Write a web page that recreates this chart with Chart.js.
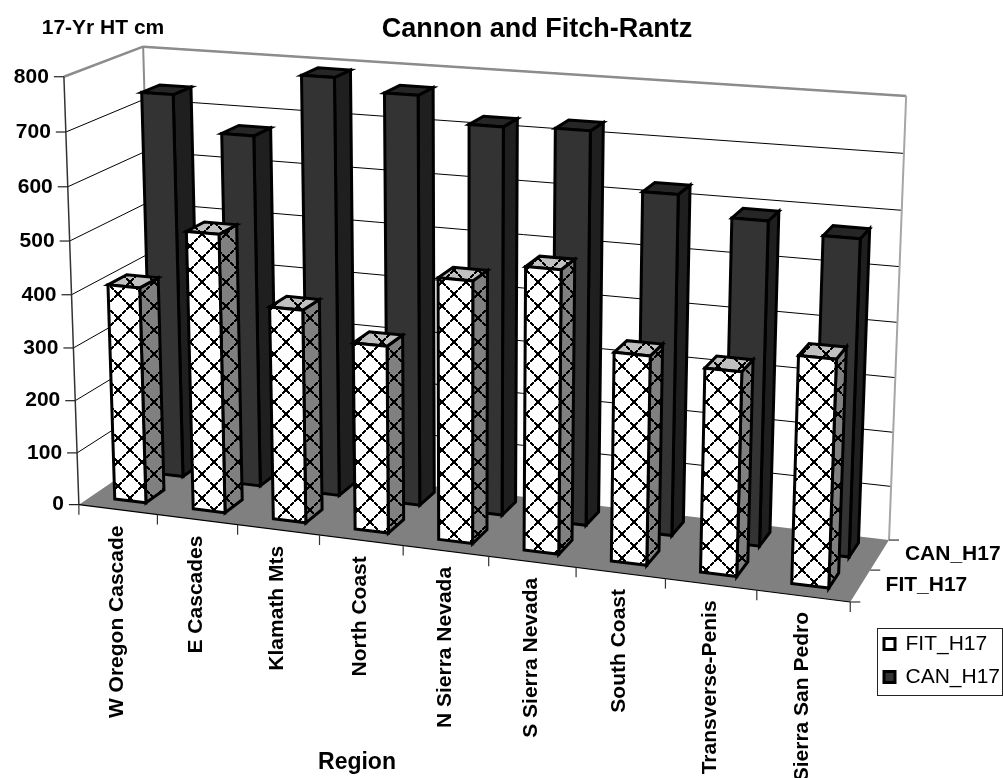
<!DOCTYPE html>
<html><head><meta charset="utf-8">
<style>html,body{margin:0;padding:0;background:#fff}#w{width:1003px;height:778px}</style>
<script src="https://cdn.jsdelivr.net/npm/chart.js@4/dist/chart.umd.js"></script>
</head><body><div id="w"><canvas id="c"></canvas></div>
<script>
const categories=['W Oregon Cascade','E Cascades','Klamath Mts','North Coast','N Sierra Nevada','S Sierra Nevada','South Coast','Transverse-Penis','Sierra San Pedro'];
const fitValues=[410,523,398,347,480,514,377,365,403];
const canValues=[736,670,788,766,720,724,623,589,571];
const seriesNames=['FIT_H17','CAN_H17'];
const yTickMax=800, yTickStep=100;
// view of the 3D box: [along categories, up, into depth] -> page position
const viewAnchors=[[0,0,0,80,505],[0,0,0,80,505],[1,0,0,850,602],[0,0,1,152,452],[1,0,1,890,540],[0,1,0,63,76],[0,1,0,63,76],[0,1,1,145,48],[1,1,1,906,96],
 [1/9,0,0,157.5,515],[2/9,0,0,238,525],[8/9,0,0,756,590]];
const seriesDepth={FIT_H17:[0.16,0.40],CAN_H17:[0.66,0.90]};

function solveView(a){
  const n=11,A=Array.from({length:n},()=>Array(n+1).fill(0));
  const add=(r,b)=>{for(let i=0;i<n;i++){for(let j=0;j<n;j++)A[i][j]+=r[i]*r[j];A[i][n]+=r[i]*b;}};
  a.forEach(([X,Y,Z,px,py])=>{const x=px/1000,y=py/1000;
    add([X,Y,Z,1,0,0,0,0,-x*X,-x*Y,-x*Z],x);
    add([0,0,0,0,X,Y,Z,1,-y*X,-y*Y,-y*Z],y);});
  for(let i=0;i<n;i++){let m=i;for(let r=i+1;r<n;r++)if(Math.abs(A[r][i])>Math.abs(A[m][i]))m=r;
    [A[i],A[m]]=[A[m],A[i]];
    for(let r=0;r<n;r++)if(r!==i){const f=A[r][i]/A[i][i];for(let c=i;c<=n;c++)A[r][c]-=f*A[i][c];}}
  return A.map((r,i)=>r[n]/r[i]);
}
const V=solveView(viewAnchors);
function P(u,v,w){const d=V[8]*u+V[9]*v+V[10]*w+1;
  return [1000*(V[0]*u+V[1]*v+V[2]*w+V[3])/d,1000*(V[4]*u+V[5]*v+V[6]*w+V[7])/d];}

function lattice(){const t=24,c=document.createElement('canvas');c.width=t;c.height=t;const g=c.getContext('2d');g.fillStyle='#000';
  for(let i=0;i<12;i++){const a=i*2;g.fillRect(a,a,2,2);g.fillRect(t-2-a,a,2,2);if(i%2===0){g.fillRect(a+1,a+1,2,2);g.fillRect(t-3-a,a+1,2,2);}}
  return c;}
const latticeTile=lattice();

function poly(ctx,pts){ctx.beginPath();pts.forEach((p,i)=>i?ctx.lineTo(p[0],p[1]):ctx.moveTo(p[0],p[1]));ctx.closePath();}
function line(ctx,a,b,col,lw){ctx.strokeStyle=col;ctx.lineWidth=lw;ctx.beginPath();ctx.moveTo(a[0],a[1]);ctx.lineTo(b[0],b[1]);ctx.stroke();}

const box3d={
  id:'box3d',
  afterLayout(chart){
    const {x,y,z}=chart.scales;
    const U=p=>(p-x.left)/x.width, H=p=>(y.bottom-p)/y.height;
    const move=(s,fn)=>{ if(s.$wrapped)return; s.$wrapped=true; const o=s.getLabelItems;
      s._computeLabelArea=()=>undefined;
      s.getLabelItems=function(ca){const it=o.call(s,ca); if(!it.$m){it.forEach(fn);it.$m=true;} return it;};};
    move(y,(it)=>{const p=P(0,H(it.options.translation[1]),0);it.options.translation=[p[0]-15,p[1]];it.options.textAlign='right';it.options.textBaseline='middle';it.textOffset=0;});
    move(x,(it,i)=>{const p=P(U(x.getPixelForTick(i)),0,0);it.options.translation=[p[0]-1,p[1]+16];it.options.rotation=-Math.PI/2;it.options.textAlign='right';it.options.textBaseline='middle';it.textOffset=0;});
    move(z,(it)=>{const d=seriesDepth[it.label],p=P(1,0,(d[0]+d[1])/2);it.options.translation=[p[0]+24,p[1]+1];it.options.textAlign='left';it.options.textBaseline='middle';it.textOffset=0;});
    x.$drawTitle=x.$drawTitle||x.drawTitle;
    x.drawTitle=function(){const c=chart.ctx;c.save();c.translate(357-(x.left+x.right)/2,763-(x.bottom-x.options.title.padding.bottom-x.options.title.font.size*0.6));x.$drawTitle.call(x);c.restore();};
    chart.boxes.forEach(b=>{
      if(b.options&&b.options.text==='Cannon and Fitch-Rantz'){b.left=137;b.right=937;b.top=13;b.bottom=45;}
      if(b.options&&b.options.text==='17-Yr HT cm'){b.left=-297;b.right=503;b.top=16;b.bottom=40;}
      if(b===chart.legend){b.left=872;b.right=1003;b.top=621.5;b.bottom=770;}
    });
  },
  beforeDatasetsDraw(chart){
    const ctx=chart.ctx,{x,y}=chart.scales;
    const H=p=>(y.bottom-p)/y.height;
    ctx.save();ctx.lineJoin='miter';
    const grey='#8c8c8c',ink='#000';
    // floor
    poly(ctx,[P(0,0,0),P(1,0,0),P(1,0,1),P(0,0,1)]);ctx.fillStyle='#808080';ctx.fill();
    // gridlines through y scale
    y.ticks.forEach(t=>{const v=H(y.getPixelForValue(t.value));if(v<=0||v>=1)return;
      line(ctx,P(0,v,0),P(0,v,1),ink,1);line(ctx,P(0,v,1),P(1,v,1),ink,1);});
    // walls
    line(ctx,P(0,1,0),P(0,1,1),grey,2.5);line(ctx,P(0,1,1),P(1,1,1),grey,2.5);
    line(ctx,P(0,1,1),P(0,0,1),grey,2);line(ctx,P(1,1,1),P(1,0,1),'#a6a6a6',2);
    line(ctx,P(0,1,0),P(0,0,0),'#333',1.5);
    line(ctx,P(0,0,0),P(1,0,0),ink,1.2);
    // axis ticks
    y.ticks.forEach(t=>{const p=P(0,H(y.getPixelForValue(t.value)),0);line(ctx,[p[0]-10,p[1]],p,'#222',1.2);});
    for(let i=0;i<=categories.length;i++){const p=P(i/categories.length,0,0);line(ctx,p,[p[0],p[1]+10],'#333',1.2);}
    [0,.5,1].forEach(w=>{const p=P(1,0,w);line(ctx,p,[p[0]+10,p[1]],'#333',1.2);});
    // bars, rear series first
    const pat=ctx.createPattern(latticeTile,'repeat');
    pat.setTransform(new DOMMatrix([1,0,0,1,-2,6]));
    [1,0].forEach(di=>{
      const ds=chart.data.datasets[di],meta=chart.getDatasetMeta(di),[w0,w1]=seriesDepth[ds.label];
      const hatched=di===0;
      meta.data.forEach(b=>{
        const u0=(b.x-b.width/2-x.left)/x.width,u1=(b.x+b.width/2-x.left)/x.width,v0=H(b.base),v1=H(b.y);
        const faces=[
          {p:[P(u1,v0,w0),P(u1,v0,w1),P(u1,v1,w1),P(u1,v1,w0)],c:hatched?'#808080':'#1f1f1f'},
          {p:[P(u0,v1,w0),P(u1,v1,w0),P(u1,v1,w1),P(u0,v1,w1)],c:hatched?'#c0c0c0':'#262626'},
          {p:[P(u0,v0,w0),P(u1,v0,w0),P(u1,v1,w0),P(u0,v1,w0)],c:hatched?'#ffffff':'#333333'}];
        faces.forEach(f=>{poly(ctx,f.p);ctx.fillStyle=f.c;ctx.fill();
          if(hatched){ctx.fillStyle=pat;ctx.fill();}
          ctx.strokeStyle='#000';ctx.lineWidth=3;ctx.stroke();});
      });
    });
    // legend frame
    ctx.strokeStyle='#222';ctx.lineWidth=1;ctx.strokeRect(877.5,628.5,125,67);
    ctx.restore();
  },
  beforeDatasetDraw(){return false;}
};

new Chart(document.getElementById('c'),{
  type:'bar',
  data:{labels:categories,datasets:[
    {label:seriesNames[0],data:fitValues,backgroundColor:'#ffffff',borderColor:'#000',borderWidth:3,grouped:false,barPercentage:0.4,categoryPercentage:1},
    {label:seriesNames[1],data:canValues,backgroundColor:'#333333',borderColor:'#000',borderWidth:3,grouped:false,barPercentage:0.4,categoryPercentage:1}]},
  options:{responsive:true,maintainAspectRatio:false,animation:false,
    layout:{padding:0},
    font:{family:'"Liberation Sans",Arial,sans-serif'},
    scales:{
      x:{type:'category',grid:{display:false},border:{display:false},
        ticks:{autoSkip:false,minRotation:90,maxRotation:90,color:'#000',font:{family:'"Liberation Sans"',weight:'bold',size:21}},
        title:{display:true,text:'Region',color:'#000',padding:{top:2,bottom:2},font:{family:'"Liberation Sans"',weight:'bold',size:23}}},
      y:{min:0,max:yTickMax,grid:{display:false},border:{display:false},
        ticks:{stepSize:yTickStep,color:'#000',font:{family:'"Liberation Sans"',weight:'bold',size:21}}},
      z:{type:'category',axis:'y',position:'right',labels:seriesNames,grid:{display:false},border:{display:false},
        ticks:{color:'#000',font:{family:'"Liberation Sans"',weight:'bold',size:21}}}
    },
    plugins:{
      tooltip:{enabled:false},
      title:{display:true,text:'Cannon and Fitch-Rantz',color:'#000',padding:0,font:{family:'"Liberation Sans"',weight:'bold',size:27}},
      subtitle:{display:true,text:'17-Yr HT cm',color:'#000',padding:0,font:{family:'"Liberation Sans"',weight:'bold',size:21}},
      legend:{position:'right',align:'start',labels:{boxWidth:11,boxHeight:11,padding:12,color:'#000',font:{family:'"Liberation Sans"',size:21}}}
    }
  },
  plugins:[box3d]
});
</script></body></html>
